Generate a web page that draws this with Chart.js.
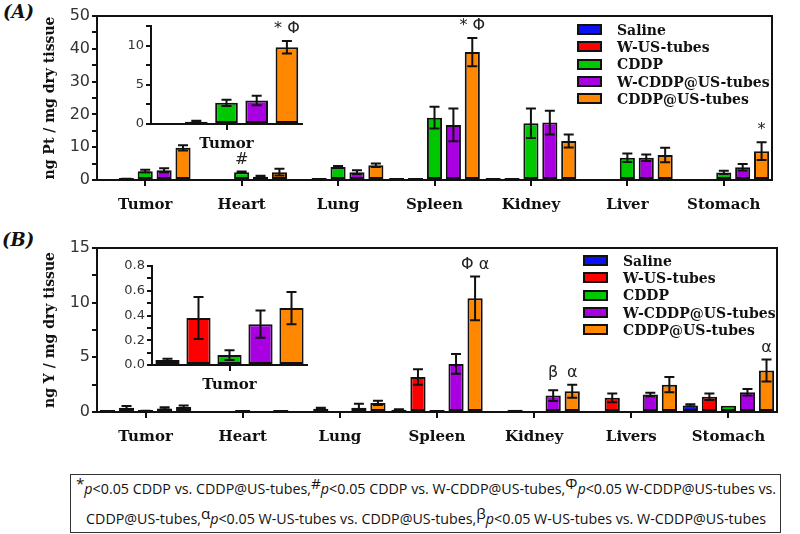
<!DOCTYPE html>
<html>
<head>
<meta charset="utf-8">
<script src="https://cdn.jsdelivr.net/npm/chart.js@4.4.1/dist/chart.umd.min.js"></script>
<style>
  body { margin: 0; background: #fff; width: 800px; height: 534px; position: relative; overflow: hidden; }
  canvas { position: absolute; }
  .tag { position: absolute; font: italic bold 18px 'DejaVu Serif', serif; color: #111; }
  .legend { position: absolute; font: bold 14px 'DejaVu Serif', serif; color: #111; }
  .legend div { height: 17.3px; display: flex; align-items: center; white-space: nowrap; }
  .legend .sw { display: inline-block; width: 21px; height: 7px; border: 2px solid #111; }
  .caption { position: absolute; left: 70px; top: 474px; width: 709px; height: 57px; border: 1px solid #333; }
  .caption .line { position: absolute; left: 50%; white-space: nowrap; font: 14px 'Liberation Sans Narrow', 'Open Sans', sans-serif; color: #111; transform-origin: center; }
  .caption .sym { position: relative; top: -5px; font-size: 15px; }
</style>
</head>
<body>
<div class="tag" style="left:3px;top:1px">(A)</div>
<div class="tag" style="left:2px;top:229px">(B)</div>

<canvas id="mainPt" width="800" height="230" style="left:0;top:0"></canvas>
<canvas id="insetPt" width="210" height="160" style="left:100px;top:0"></canvas>
<div class="legend" id="legendPt" style="left:577px;top:21px"></div>

<canvas id="mainY" width="800" height="230" style="left:0;top:230px"></canvas>
<canvas id="insetY" width="215" height="160" style="left:100px;top:240px"></canvas>
<div class="legend" id="legendY" style="left:583px;top:252px"></div>

<div class="caption">
  <div class="line" id="cap1" style="top:3px"><span class="sym">*</span><i>p</i>&lt;0.05 CDDP vs. CDDP@US-tubes,<span class="sym">#</span><i>p</i>&lt;0.05 CDDP vs. W-CDDP@US-tubes,<span class="sym">Φ</span><i>p</i>&lt;0.05 W-CDDP@US-tubes vs.</div>
  <div class="line" id="cap2" style="top:33px">CDDP@US-tubes,<span class="sym">α</span><i>p</i>&lt;0.05 W-US-tubes vs. CDDP@US-tubes,<span class="sym">β</span><i>p</i>&lt;0.05 W-US-tubes vs. W-CDDP@US-tubes</div>
</div>

<script>
// categories and groups
const organsPt = ['Tumor', 'Heart', 'Lung', 'Spleen', 'Kidney', 'Liver', 'Stomach'];
const organsY = ['Tumor', 'Heart', 'Lung', 'Spleen', 'Kidney', 'Livers', 'Stomach'];
const groups = ['Saline', 'W-US-tubes', 'CDDP', 'W-CDDP@US-tubes', 'CDDP@US-tubes'];
const groupColors = ['#0a12f2', '#ff0000', '#00c800', '#a800e0', '#ff8800'];

// (A) ng Pt / mg dry tissue - means
const ptSaline = [null, null, null, 0.3, 0.2, null, null];
const ptWUS = [0.3, null, 0.2, 0.2, 0.2, null, null];
const ptCDDP = [2.7, 2.4, 4.0, 19.0, 17.3, 6.8, 2.3];
const ptWCDDP = [3.0, 1.0, 2.4, 16.8, 17.5, 6.8, 3.9];
const ptCDDPUS = [9.8, 2.4, 4.5, 39.0, 11.9, 7.6, 8.8];
// (A) error bars
const ptSalineErr = [0, 0, 0, 0, 0, 0, 0];
const ptWUSErr = [0.1, 0, 0, 0, 0, 0, 0];
const ptCDDPErr = [0.4, 0.2, 0.3, 3.3, 4.5, 1.3, 0.5];
const ptWCDDPErr = [0.6, 0.3, 0.6, 5.0, 3.6, 1.0, 1.0];
const ptCDDPUSErr = [0.8, 1.0, 0.5, 4.3, 2.0, 2.2, 2.7];

// (B) ng Y / mg dry tissue - means
const ySaline = [0.04, null, null, 0.2, null, null, 0.6];
const yWUS = [0.38, null, 0.3, 3.2, 0.2, 1.3, 1.4];
const yCDDP = [0.08, 0.05, null, 0.05, null, null, 0.58];
const yWCDDP = [0.33, null, 0.4, 4.4, 1.5, 1.6, 1.8];
const yCDDPUS = [0.46, 0.05, 0.83, 10.4, 1.9, 2.5, 3.8];
// (B) error bars
const ySalineErr = [0.01, 0, 0, 0.05, 0, 0, 0.1];
const yWUSErr = [0.17, 0, 0.1, 0.7, 0, 0.4, 0.3];
const yCDDPErr = [0.04, 0, 0, 0, 0, 0, 0];
const yWCDDPErr = [0.11, 0, 0.35, 0.9, 0.5, 0.15, 0.3];
const yCDDPUSErr = [0.13, 0, 0.2, 2.0, 0.6, 0.7, 1.0];

// significance marks: organ index, group index, symbol
const marksPt = [
  { organ: 1, group: 2, text: '#' },
  { organ: 3, group: 4, text: '* Φ' },
  { organ: 6, group: 4, text: '*' }
];
const marksPtInset = [{ organ: 0, group: 4, text: '* Φ' }];
const marksY = [
  { organ: 3, group: 4, text: 'Φ α' },
  { organ: 4, group: 3, text: 'β', lift: 17 },
  { organ: 4, group: 4, text: 'α' },
  { organ: 6, group: 4, text: 'α' }
];

const ptMeans = [ptSaline, ptWUS, ptCDDP, ptWCDDP, ptCDDPUS];
const ptErrs = [ptSalineErr, ptWUSErr, ptCDDPErr, ptWCDDPErr, ptCDDPUSErr];
const yMeans = [ySaline, yWUS, yCDDP, yWCDDP, yCDDPUS];
const yErrs = [ySalineErr, yWUSErr, yCDDPErr, yWCDDPErr, yCDDPUSErr];

function buildSets(means, errs, onlyFirst) {
  return groups.map((g, k) => ({
    label: g,
    data: onlyFirst ? [means[k][0]] : means[k],
    errors: onlyFirst ? [errs[k][0]] : errs[k],
    backgroundColor: groupColors[k],
    borderColor: '#111',
    borderWidth: 2,
    borderSkipped: false
  }));
}

// error bars drawn on top of the bars
const errorBars = {
  id: 'errorBars',
  afterDatasetsDraw(chart) {
    const ctx = chart.ctx;
    const y = chart.scales.y;
    ctx.save();
    ctx.strokeStyle = '#111';
    ctx.lineWidth = 2;
    chart.data.datasets.forEach((ds, di) => {
      chart.getDatasetMeta(di).data.forEach((bar, i) => {
        const v = ds.data[i], e = ds.errors[i];
        if (v == null || !e) return;
        const top = y.getPixelForValue(v + e);
        const bot = y.getPixelForValue(Math.max(v - e, 0));
        ctx.beginPath();
        ctx.moveTo(bar.x, top); ctx.lineTo(bar.x, bot);
        ctx.moveTo(bar.x - 5, top); ctx.lineTo(bar.x + 5, top);
        ctx.moveTo(bar.x - 5, bot); ctx.lineTo(bar.x + 5, bot);
        ctx.stroke();
      });
    });
    ctx.restore();
  }
};

function makeMarks(items) {
  return {
    id: 'marks',
    afterDraw(chart) {
      const ctx = chart.ctx;
      const y = chart.scales.y;
      ctx.save();
      ctx.fillStyle = '#222';
      ctx.font = '16px "DejaVu Sans"';
      ctx.textAlign = 'center';
      ctx.textBaseline = 'middle';
      items.forEach(m => {
        const ds = chart.data.datasets[m.group];
        const bar = chart.getDatasetMeta(m.group).data[m.organ];
        const top = y.getPixelForValue(ds.data[m.organ] + (ds.errors[m.organ] || 0));
        ctx.fillText(m.text, bar.x, top - (m.lift || 12));
      });
      ctx.restore();
    }
  };
}

// closes the box on top and right of the main plots
const frame = {
  id: 'frame',
  afterDraw(chart) {
    const a = chart.chartArea, ctx = chart.ctx;
    ctx.save();
    ctx.strokeStyle = '#111';
    ctx.lineWidth = 2;
    ctx.beginPath();
    ctx.moveTo(a.left, a.top); ctx.lineTo(a.right, a.top); ctx.lineTo(a.right, a.bottom);
    ctx.stroke();
    ctx.restore();
  }
};

function axisX(fontSize, height, pad) {
  return {
    grid: { offset: false, drawOnChartArea: false, color: '#111', lineWidth: 2, tickLength: 6 },
    border: { color: '#111', width: 2 },
    ticks: { color: '#111', font: { family: 'DejaVu Serif', weight: 'bold', size: fontSize }, padding: pad, maxRotation: 0 },
    afterFit: s => { s.height = height; }
  };
}

function axisY(cfg) {
  return {
    min: 0, max: cfg.max,
    grid: { drawOnChartArea: false, color: '#111', lineWidth: 2, tickLength: 5 },
    border: { color: '#111', width: 2 },
    ticks: {
      stepSize: cfg.step, autoSkip: false, padding: 2, color: '#333',
      font: { family: 'DejaVu Sans', size: cfg.font },
      callback: cfg.label
    },
    title: cfg.title ? {
      display: true, text: cfg.title, color: '#111',
      font: { family: 'DejaVu Serif', weight: 'bold', size: 14 },
      padding: { top: 42, bottom: 0 }
    } : { display: false },
    afterFit: s => { s.width = cfg.width; }
  };
}

function barChart(id, labels, datasets, opts, plugins) {
  return new Chart(document.getElementById(id), {
    type: 'bar',
    data: { labels: labels, datasets: datasets },
    options: Object.assign({
      responsive: false,
      animation: false,
      plugins: { legend: { display: false }, tooltip: { enabled: false } }
    }, opts),
    plugins: plugins
  });
}

const everyTen = v => (Math.round(v) % 10 === 0 ? String(v) : '');
const everyFive = v => (Math.round(v * 2) % 10 === 0 ? String(v) : '');
const everyFifth = v => (Math.round(v * 10) % 2 === 0 ? v.toFixed(1) : '');

// (A) main
const chartPt = barChart('mainPt', organsPt, buildSets(ptMeans, ptErrs), {
  layout: { padding: { top: 16, right: 28, left: 0, bottom: 0 } },
  datasets: { bar: { categoryPercentage: 0.98, barPercentage: 0.8, minBarLength: 2 } },
  scales: {
    x: axisX(15, 50, 10),
    y: axisY({ max: 50, step: 5, font: 16, label: everyTen, width: 97, title: 'ng Pt / mg dry tissue' })
  }
}, [errorBars, makeMarks(marksPt), frame]);

// (A) inset
barChart('insetPt', ['Tumor'], buildSets(ptMeans, ptErrs, true), {
  layout: { padding: { top: 26, right: 8, left: 0, bottom: 0 } },
  datasets: { bar: { categoryPercentage: 1, barPercentage: 0.75 } },
  scales: {
    x: axisX(15, 36, 5),
    y: axisY({ max: 12.5, step: 2.5, font: 13, label: everyFive, width: 51 })
  }
}, [errorBars, makeMarks(marksPtInset)]);

// (B) main
const chartY = barChart('mainY', organsY, buildSets(yMeans, yErrs), {
  layout: { padding: { top: 18, right: 23, left: 0, bottom: 0 } },
  datasets: { bar: { categoryPercentage: 0.98, barPercentage: 0.8, minBarLength: 2 } },
  scales: {
    x: axisX(15, 48, 10),
    y: axisY({ max: 15, step: 2.5, font: 16, label: everyFive, width: 97, title: 'ng Y / mg dry tissue' })
  }
}, [errorBars, makeMarks(marksY), frame]);

// (B) inset
barChart('insetY', ['Tumor'], buildSets(yMeans, yErrs, true), {
  layout: { padding: { top: 26, right: 8, left: 0, bottom: 0 } },
  datasets: { bar: { categoryPercentage: 1, barPercentage: 0.78 } },
  scales: {
    x: axisX(15, 35, 5),
    y: axisY({ max: 0.8, step: 0.1, font: 13, label: everyFifth, width: 52 })
  }
}, [errorBars]);

// html legends built from the datasets
function fillLegend(chart, el) {
  chart.data.datasets.forEach(ds => {
    const row = document.createElement('div');
    const sw = document.createElement('span');
    sw.className = 'sw';
    sw.style.background = ds.backgroundColor;
    sw.style.marginRight = '15px';
    row.appendChild(sw);
    row.appendChild(document.createTextNode(ds.label));
    el.appendChild(row);
  });
}
fillLegend(chartPt, document.getElementById('legendPt'));
fillLegend(chartY, document.getElementById('legendY'));

// squeeze caption lines to the reference widths
[['cap1', 700], ['cap2', 680]].forEach(([id, w]) => {
  const el = document.getElementById(id);
  const s = w / el.offsetWidth;
  el.style.transform = 'translateX(-50%) scaleX(' + s + ')';
});
</script>
</body>
</html>
